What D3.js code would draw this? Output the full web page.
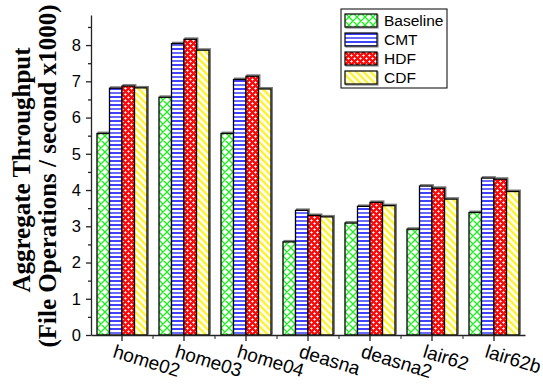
<!DOCTYPE html>
<html>
<head>
<meta charset="utf-8">
<script src="https://cdn.jsdelivr.net/npm/d3@7"></script>
<style>
  body { margin: 0; background: #fff; }
  svg { display: block; }
</style>
</head>
<body>
<div id="chart"></div>
<script>
var traces = ["home02", "home03", "home04", "deasna", "deasna2", "lair62", "lair62b"];
var series = ["Baseline", "CMT", "HDF", "CDF"];

// throughput in file operations / second x1000
var baseline = [5.56, 6.56, 5.56, 2.57, 3.09, 2.92, 3.38];
var cmt      = [6.81, 8.04, 7.05, 3.44, 3.55, 4.11, 4.33];
var hdf      = [6.87, 8.16, 7.14, 3.30, 3.66, 4.05, 4.30];
var cdf      = [6.82, 7.86, 6.79, 3.26, 3.57, 3.75, 3.96];

var yTicks = [0, 1, 2, 3, 4, 5, 6, 7, 8];
var yMinorTicks = [0.5, 1.5, 2.5, 3.5, 4.5, 5.5, 6.5, 7.5, 8.5];

var values = {"Baseline": baseline, "CMT": cmt, "HDF": hdf, "CDF": cdf};
var fills = {"Baseline": "url(#pBase)", "CMT": "url(#pCmt)", "HDF": "url(#pHdf)", "CDF": "url(#pCdf)"};

var W = 543, H = 385;
var svg = d3.select("#chart").append("svg").attr("width", W).attr("height", H);

// ---- hatch patterns
var defs = svg.append("defs");

var pb = defs.append("pattern").attr("id", "pBase").attr("patternUnits", "userSpaceOnUse")
    .attr("width", 8).attr("height", 8);
pb.append("rect").attr("width", 8).attr("height", 8).attr("fill", "#fff");
pb.append("path").attr("d", "M0,0L8,8M8,0L0,8M-1,7L1,9M7,-1L9,1M-1,1L1,-1M7,9L9,7")
    .attr("stroke", "#22ee22").attr("stroke-width", 1.4);

var pc = defs.append("pattern").attr("id", "pCmt").attr("patternUnits", "userSpaceOnUse")
    .attr("width", 8).attr("height", 8);
pc.append("rect").attr("width", 8).attr("height", 8).attr("fill", "#fff");
pc.append("path").attr("d", "M0,1L8,1").attr("stroke", "#1010ff").attr("stroke-width", 1.6);
pc.append("path").attr("d", "M0,5L8,5").attr("stroke", "#6a6aff").attr("stroke-width", 2);

var ph = defs.append("pattern").attr("id", "pHdf").attr("patternUnits", "userSpaceOnUse")
    .attr("width", 6).attr("height", 6);
ph.append("rect").attr("width", 6).attr("height", 6).attr("fill", "#ff0a0a");
ph.append("path").attr("d", "M1.5,0.3V2.7M0.3,1.5H2.7M4.5,3.3V5.7M3.3,4.5H5.7")
    .attr("stroke", "#fff").attr("stroke-width", 1);

var pd = defs.append("pattern").attr("id", "pCdf").attr("patternUnits", "userSpaceOnUse")
    .attr("width", 5).attr("height", 5).attr("patternTransform", "rotate(-45)");
pd.append("rect").attr("width", 5).attr("height", 5).attr("fill", "#fff");
pd.append("path").attr("d", "M1.5,0V5").attr("stroke", "#ffee00").attr("stroke-width", 2);

// ---- scales
var x0 = d3.scaleBand().domain(traces).range([91, 525]);
var x1 = d3.scaleBand().domain(series).range([0, 50]);
var y = d3.scaleLinear().domain([0, 8.83]).range([335, 15]);

// ---- bars
var groups = svg.append("g").selectAll("g")
    .data(traces)
    .enter().append("g")
    .attr("transform", function(d) { return "translate(" + (x0(d) + 6) + ",0)"; });

groups.each(function(t, i) {
    var g = d3.select(this);
    series.forEach(function(s) {
        var v = values[s][i];
        g.append("rect")
            .attr("x", x1(s) + 1.2).attr("y", y(v) - 1.2)
            .attr("width", x1.bandwidth()).attr("height", y(0) - y(v))
            .attr("fill", "none").attr("stroke", "#7a7a7a").attr("stroke-width", 1.5);
    });
    series.forEach(function(s) {
        var v = values[s][i];
        g.append("rect")
            .attr("x", x1(s)).attr("y", y(v))
            .attr("width", x1.bandwidth()).attr("height", y(0) - y(v))
            .attr("fill", fills[s]).attr("stroke", "#000").attr("stroke-width", 1.3);
    });
});

// ---- y axis
var yAxis = svg.append("g").attr("transform", "translate(91,0)")
    .call(d3.axisLeft(y).tickValues(yTicks).tickSize(5).tickPadding(5).tickSizeOuter(0));
yAxis.selectAll("text").style("font-family", "Arial, 'Liberation Sans', sans-serif")
    .style("font-size", "16.5px").attr("fill", "#000");
var yMinor = svg.append("g").attr("transform", "translate(91,0)")
    .call(d3.axisLeft(y).tickValues(yMinorTicks).tickSize(3).tickFormat("").tickSizeOuter(0));
yMinor.select(".domain").remove();

// ---- x axis
var xAxis = svg.append("g").attr("transform", "translate(0,335)")
    .call(d3.axisBottom(x0).tickSize(6).tickSizeOuter(0));
xAxis.selectAll("text")
    .attr("x", 0).attr("y", 0).attr("dy", 0)
    .attr("text-anchor", "start")
    .attr("transform", "translate(-10,22) rotate(17)")
    .style("font-family", "Arial, 'Liberation Sans', sans-serif")
    .style("font-size", "19px").attr("fill", "#000");
svg.append("g").selectAll("line")
    .data(traces.slice(1))
    .enter().append("line")
    .attr("x1", function(d) { return x0(d); }).attr("x2", function(d) { return x0(d); })
    .attr("y1", 335).attr("y2", 339)
    .attr("stroke", "#222");

svg.selectAll(".domain, .tick line").attr("stroke", "#222").attr("stroke-width", 1.3);

// ---- y label
var yl = svg.append("text")
    .attr("transform", "translate(0,174) rotate(-90)")
    .attr("text-anchor", "middle")
    .style("font-family", "'Times New Roman', 'Liberation Serif', serif")
    .style("font-weight", "bold").style("font-size", "25px");
yl.append("tspan").attr("x", 4).attr("y", 30).text("Aggregate Throughput");
yl.append("tspan").attr("x", -2).attr("y", 56).text("(File Operations / second x1000)");

// ---- legend
var legend = svg.append("g").attr("transform", "translate(341,9)");
legend.append("rect").attr("width", 106).attr("height", 79)
    .attr("fill", "#fff").attr("stroke", "#000").attr("stroke-width", 1);
series.forEach(function(s, i) {
    var ly = 5 + i * 19;
    legend.append("rect").attr("x", 5).attr("y", ly + 1).attr("width", 32).attr("height", 13)
        .attr("fill", "none").attr("stroke", "#888").attr("stroke-width", 1.2);
    legend.append("rect").attr("x", 4).attr("y", ly).attr("width", 32).attr("height", 13)
        .attr("fill", fills[s]).attr("stroke", "#000").attr("stroke-width", 1.2);
    legend.append("text").attr("x", 43).attr("y", ly + 12)
        .style("font-family", "Arial, 'Liberation Sans', sans-serif")
        .style("font-size", "15.5px").text(s);
});
</script>
</body>
</html>
